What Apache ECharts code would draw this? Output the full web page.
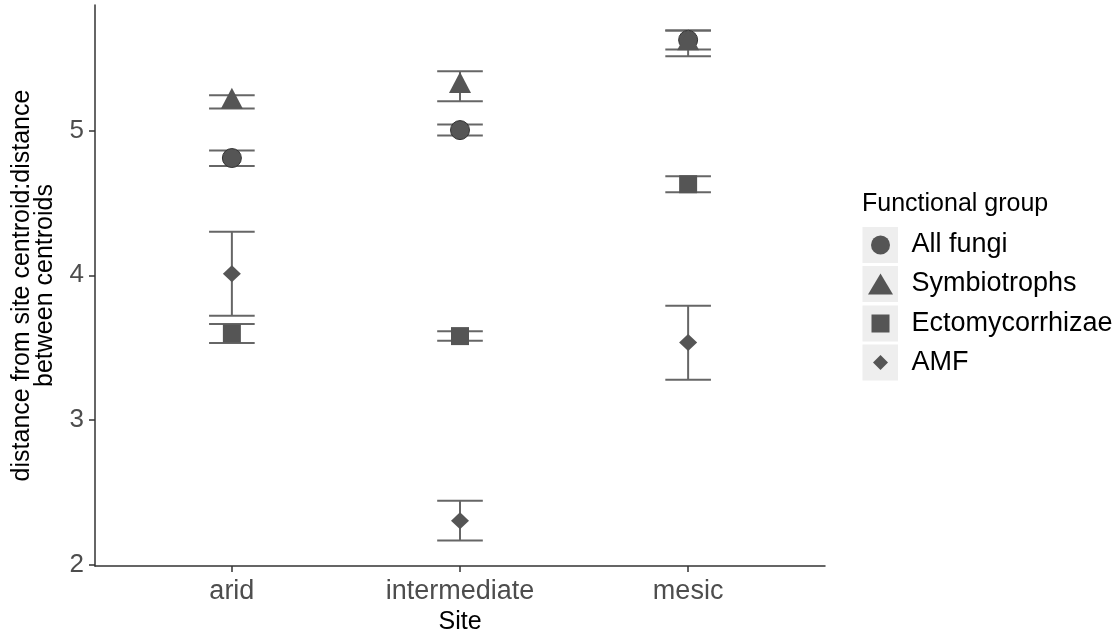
<!DOCTYPE html>
<html>
<head>
<meta charset="utf-8">
<script src="https://cdn.jsdelivr.net/npm/echarts@6/dist/echarts.min.js"></script>
<style>html,body{margin:0;padding:0;background:#fff}#c{width:1120px;height:632px}</style>
</head>
<body>
<div id="c"></div>
<script>
const sites = ['arid', 'intermediate', 'mesic'];
const yTicks = [2, 3, 4, 5];
const groups = ['All fungi', 'Symbiotrophs', 'Ectomycorrhizae', 'AMF'];

const allFungiMean = [4.81, 5.003, 5.626];
const allFungiLo   = [4.755, 4.965, 5.56];
const allFungiHi   = [4.862, 5.041, 5.691];

const symbMean = [5.198, 5.307, 5.602];
const symbLo   = [5.152, 5.203, 5.513];
const symbHi   = [5.244, 5.41, 5.691];

const ectoMean = [3.598, 3.58, 4.629];
const ectoLo   = [3.532, 3.548, 4.574];
const ectoHi   = [3.664, 3.613, 4.684];

const amfMean = [4.01, 2.305, 3.535];
const amfLo   = [3.721, 2.168, 3.279];
const amfHi   = [4.30, 2.442, 3.79];

const FONT = '"Liberation Sans", Arial, sans-serif';
const PT = '#555555';
const EB = '#666666';

const groupData = [
  {name: groups[0], mean: allFungiMean, lo: allFungiLo, hi: allFungiHi, symbol: 'circle', size: 19, legendSize: [19, 19], border: '#333', offset: [0, 0]},
  {name: groups[1], mean: symbMean, lo: symbLo, hi: symbHi, symbol: 'triangle', size: [22, 21], legendSize: [25, 21], border: PT, offset: [0, '-16.67%']},
  {name: groups[2], mean: ectoMean, lo: ectoLo, hi: ectoHi, symbol: 'rect', size: 18, legendSize: [18, 18], border: PT, offset: [0, 0]},
  {name: groups[3], mean: amfMean, lo: amfLo, hi: amfHi, symbol: 'diamond', size: [18, 17], legendSize: [15, 15], border: PT, offset: [0, 0]}
];

function renderErr(params, api) {
  const x = api.value(0), lo = api.value(1), hi = api.value(2);
  const pLo = api.coord([x, lo]);
  const pHi = api.coord([x, hi]);
  const l = api.coord([x - 0.1, lo])[0];
  const r = api.coord([x + 0.1, lo])[0];
  const style = {stroke: EB, lineWidth: 2, fill: null};
  return {type: 'group', children: [
    {type: 'line', shape: {x1: l, y1: pHi[1], x2: r, y2: pHi[1]}, style: style},
    {type: 'line', shape: {x1: pLo[0], y1: pHi[1], x2: pLo[0], y2: pLo[1]}, style: style},
    {type: 'line', shape: {x1: l, y1: pLo[1], x2: r, y2: pLo[1]}, style: style}
  ]};
}

const series = [];
groupData.forEach(function (g) {
  series.push({
    name: g.name + ' error',
    type: 'custom',
    renderItem: renderErr,
    encode: {x: 0, y: [1, 2]},
    data: sites.map(function (s, i) { return [i + 1, g.lo[i], g.hi[i]]; }),
    silent: true,
    animation: false
  });
  series.push({
    name: g.name,
    type: 'scatter',
    symbol: g.symbol,
    symbolSize: g.size,
    symbolOffset: g.offset,
    itemStyle: {color: PT, borderColor: g.border, borderWidth: g.symbol === 'circle' ? 1 : 0, opacity: 1},
    data: sites.map(function (s, i) { return [i + 1, g.mean[i]]; }),
    silent: true,
    animation: false
  });
});

const legendCenters = [245, 284, 323.5, 362.5];
const legends = groupData.map(function (g, k) {
  const w = g.legendSize[0], h = g.legendSize[1];
  return {
    data: [{name: g.name, icon: g.symbol}],
    orient: 'vertical',
    left: 880.5 - w / 2,
    top: legendCenters[k] - 16,
    padding: 0,
    itemWidth: w,
    itemHeight: h,
    selectedMode: false,
    itemStyle: {color: PT, borderWidth: 0},
    textStyle: {fontFamily: FONT, fontSize: 27, color: '#000', lineHeight: 32, padding: [0, 0, 0, 26 - w / 2]}
  };
});

const keyBoxes = legendCenters.map(function (c) {
  return {type: 'rect', left: 862.5, top: c - 18, shape: {width: 35.5, height: 36}, style: {fill: '#eeeeee'}, z: -10};
});

const chart = echarts.init(document.getElementById('c'), null, {renderer: 'canvas'});
chart.setOption({
  backgroundColor: '#fff',
  animation: false,
  title: {
    text: 'Functional group',
    left: 862,
    top: 192,
    padding: 0,
    textStyle: {fontFamily: FONT, fontSize: 25, fontWeight: 'normal', color: '#000'}
  },
  grid: {left: 95, right: 295, top: 5, bottom: 66, containLabel: false, outerBoundsMode: 'none'},
  xAxis: {
    type: 'value',
    min: 0.4,
    max: 3.6,
    name: 'Site',
    nameLocation: 'middle',
    nameGap: 41,
    nameTextStyle: {fontFamily: FONT, fontSize: 25, color: '#000'},
    axisLine: {show: true, lineStyle: {color: '#333', width: 1.5}},
    axisTick: {show: true, length: 6, lineStyle: {color: '#333', width: 1.5}, customValues: [1, 2, 3]},
    axisLabel: {
      customValues: [1, 2, 3],
      formatter: function (v) { return sites[Math.round(v) - 1] || ''; },
      fontFamily: FONT, fontSize: 27, color: '#4d4d4d', margin: 12
    },
    splitLine: {show: false}
  },
  yAxis: {
    type: 'value',
    min: 1.992,
    max: 5.867,
    name: 'distance from site centroid:distance\nbetween centroids',
    nameLocation: 'middle',
    nameRotate: 90,
    nameGap: 38,
    nameTextStyle: {fontFamily: FONT, fontSize: 25, color: '#000', lineHeight: 23, align: 'center'},
    axisLine: {show: true, lineStyle: {color: '#333', width: 1.5}},
    axisTick: {show: true, length: 6, lineStyle: {color: '#333', width: 1.5}, customValues: yTicks},
    axisLabel: {customValues: yTicks, fontFamily: FONT, fontSize: 26, color: '#4d4d4d', margin: 11},
    splitLine: {show: false}
  },
  legend: legends,
  graphic: keyBoxes,
  series: series
});
</script>
</body>
</html>
